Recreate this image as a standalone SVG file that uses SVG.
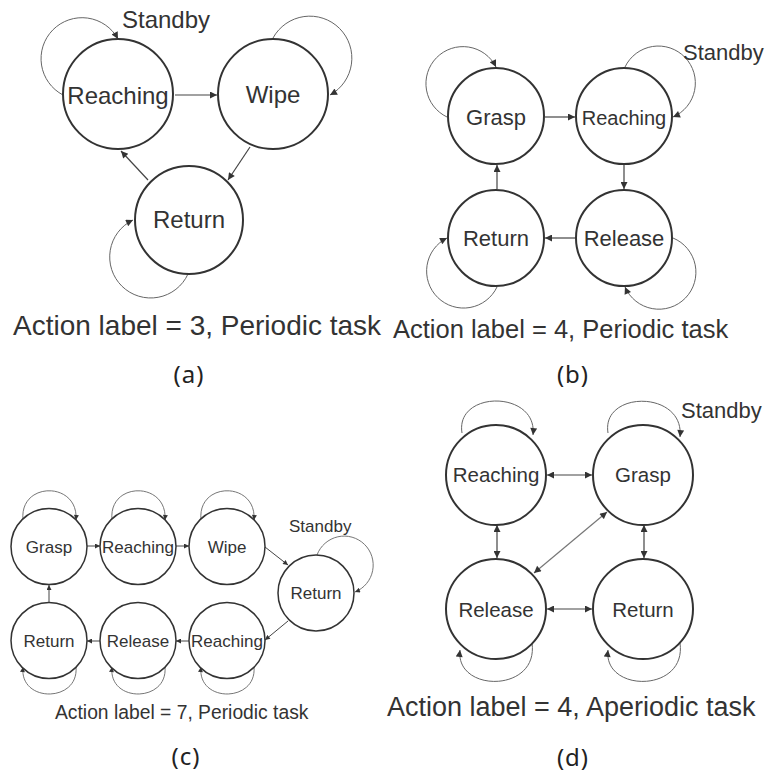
<svg xmlns="http://www.w3.org/2000/svg" width="771" height="772" viewBox="0 0 771 772">
  <style>
    .node { fill: #fff; stroke: #333; stroke-width: 2; }
    .node-s { fill: #fff; stroke: #333; stroke-width: 1.5; }
    .lbl { font-family: "Liberation Sans", Arial, sans-serif; fill: #333; text-anchor: middle; }
    .txt { font-family: "Liberation Sans", Arial, sans-serif; fill: #333; }
    .sub { font-family: "Noto Sans", "Open Sans", sans-serif; fill: #222; text-anchor: middle; font-size: 24px; letter-spacing: 1px; }
    .edge { fill: none; stroke: #444; stroke-width: 1.2; marker-end: url(#ah); }
    .edge2 { fill: none; stroke: #444; stroke-width: 1.2; marker-start: url(#ah); marker-end: url(#ah); }
    .diag { fill: none; stroke: #777; stroke-width: 1.2; marker-start: url(#ah); marker-end: url(#ah); }
    .edge-s { fill: none; stroke: #444; stroke-width: 1; marker-end: url(#ahs); }
    .loop { fill: none; stroke: #666; stroke-width: 1; marker-end: url(#ah); }
    .loop-s { fill: none; stroke: #666; stroke-width: 0.9; marker-end: url(#ahs); }
  </style>
  <defs>
    <marker id="ah" viewBox="0 0 10 10" refX="10" refY="5" markerUnits="userSpaceOnUse" markerWidth="9" markerHeight="7" orient="auto-start-reverse">
      <path d="M0,0 L10,5 L0,10 z" fill="#333"/>
    </marker>
    <marker id="ahs" viewBox="0 0 10 10" refX="10" refY="5" markerUnits="userSpaceOnUse" markerWidth="6" markerHeight="5" orient="auto-start-reverse">
      <path d="M0,0 L10,5 L0,10 z" fill="#333"/>
    </marker>
  </defs>

  <!-- (a) three-state periodic task -->
  <g id="a-connectors">
    <path class="edge" d="M175,95 L217,95"/>
    <path class="edge" d="M250,147 L228,180"/>
    <path class="edge" d="M148,180 L121,151"/>
    <path class="loop" d="M63,95 A41 41 0 1 1 118,39"/>
    <path class="loop" d="M273,38 A42 42 0 1 1 330,95"/>
    <path class="loop" d="M188,274 A41 41 0 1 1 133,220"/>
  </g>
  <g id="a-reaching"><circle class="node" cx="118" cy="94" r="55"/><text class="lbl" x="118" y="104" font-size="24">Reaching</text></g>
  <g id="a-wipe"><circle class="node" cx="273" cy="94" r="55"/><text class="lbl" x="273" y="103" font-size="24">Wipe</text></g>
  <g id="a-return"><circle class="node" cx="189" cy="220" r="54"/><text class="lbl" x="189" y="228" font-size="24">Return</text></g>
  <text class="txt" x="122" y="28" font-size="24">Standby</text>
  <text class="txt" x="13" y="335" font-size="28">Action label = 3, Periodic task</text>
  <text class="sub" x="189" y="383">(a)</text>

  <!-- (b) four-state periodic task -->
  <g id="b-connectors">
    <path class="edge" d="M545,117 L575,117"/>
    <path class="edge" d="M624,165 L624,189"/>
    <path class="edge" d="M575,238 L545,238"/>
    <path class="edge" d="M497,189 L497,165"/>
    <path class="loop" d="M447,117 A37 37 0 1 1 496,67"/>
    <path class="loop" d="M625,67 A37 37 0 1 1 673,117"/>
    <path class="loop" d="M497,287 A37 37 0 1 1 447,238"/>
    <path class="loop" d="M673,238 A37 37 0 1 1 625,287"/>
  </g>
  <g id="b-grasp"><circle class="node" cx="496" cy="116" r="48"/><text class="lbl" x="496" y="125" font-size="22">Grasp</text></g>
  <g id="b-reaching"><circle class="node" cx="624" cy="116" r="48"/><text class="lbl" x="624" y="125" font-size="20">Reaching</text></g>
  <g id="b-return"><circle class="node" cx="496" cy="238" r="48"/><text class="lbl" x="496" y="246" font-size="22">Return</text></g>
  <g id="b-release"><circle class="node" cx="624" cy="238" r="48"/><text class="lbl" x="624" y="246" font-size="22">Release</text></g>
  <text class="txt" x="683" y="60" font-size="22">Standby</text>
  <text class="txt" x="393" y="338" font-size="25.5">Action label = 4, Periodic task</text>
  <text class="sub" x="573" y="383">(b)</text>

  <!-- (c) seven-state periodic task -->
  <g id="c-connectors">
    <path class="edge-s" d="M87,546 L100,546"/>
    <path class="edge-s" d="M176,546 L189,546"/>
    <path class="edge-s" d="M265,547 L288,565"/>
    <path class="edge-s" d="M288,621 L265,640"/>
    <path class="edge-s" d="M189,641 L176,641"/>
    <path class="edge-s" d="M100,641 L87,641"/>
    <path class="edge-s" d="M49,602 L49,585"/>
    <path class="loop-s" d="M23,520 C19,481 79,481 76,520"/>
    <path class="loop-s" d="M112,520 C108,481 168,481 165,520"/>
    <path class="loop-s" d="M201,520 C197,481 257,481 254,520"/>
    <path class="loop-s" d="M317,555 A29 29 0 1 1 355,592"/>
    <path class="loop-s" d="M76,667 C79,703 19,703 23,667"/>
    <path class="loop-s" d="M165,667 C168,703 108,703 112,667"/>
    <path class="loop-s" d="M254,667 C257,703 197,703 201,667"/>
  </g>
  <g id="c-grasp"><circle class="node-s" cx="49" cy="546.5" r="38"/><text class="lbl" x="49" y="553" font-size="17">Grasp</text></g>
  <g id="c-reaching1"><circle class="node-s" cx="138" cy="546.5" r="38"/><text class="lbl" x="138" y="553" font-size="17">Reaching</text></g>
  <g id="c-wipe"><circle class="node-s" cx="227" cy="546.5" r="38"/><text class="lbl" x="227" y="553" font-size="17">Wipe</text></g>
  <g id="c-return1"><circle class="node-s" cx="316" cy="593" r="38"/><text class="lbl" x="316" y="599" font-size="17">Return</text></g>
  <g id="c-reaching2"><circle class="node-s" cx="227" cy="640.5" r="38"/><text class="lbl" x="227" y="647" font-size="17">Reaching</text></g>
  <g id="c-release"><circle class="node-s" cx="138" cy="640.5" r="38"/><text class="lbl" x="138" y="647" font-size="17">Release</text></g>
  <g id="c-return2"><circle class="node-s" cx="49" cy="640.5" r="38"/><text class="lbl" x="49" y="647" font-size="17">Return</text></g>
  <text class="txt" x="289" y="532" font-size="17">Standby</text>
  <text class="txt" x="55" y="719" font-size="19.3">Action label = 7, Periodic task</text>
  <text class="sub" x="186" y="765">(c)</text>

  <!-- (d) four-state aperiodic task -->
  <g id="d-connectors">
    <path class="edge2" d="M547,475 L592,475"/>
    <path class="edge2" d="M497,525 L497,558"/>
    <path class="edge2" d="M644,525 L644,558"/>
    <path class="edge2" d="M547,609 L592,609"/>
    <path class="diag" d="M607,512 L534,573"/>
    <path class="loop" d="M462,433 C455,390 538,390 533,435"/>
    <path class="loop" d="M608,433 C601,390 685,390 680,437"/>
    <path class="loop" d="M532,643 C539,693 455,693 460,650"/>
    <path class="loop" d="M680,643 C687,693 603,693 608,650"/>
  </g>
  <g id="d-reaching"><circle class="node" cx="496" cy="475" r="50"/><text class="lbl" x="496" y="482" font-size="20.5">Reaching</text></g>
  <g id="d-grasp"><circle class="node" cx="643" cy="475" r="50"/><text class="lbl" x="643" y="482" font-size="20.5">Grasp</text></g>
  <g id="d-release"><circle class="node" cx="496" cy="609" r="50"/><text class="lbl" x="496" y="617" font-size="20.5">Release</text></g>
  <g id="d-return"><circle class="node" cx="643" cy="609" r="50"/><text class="lbl" x="643" y="617" font-size="20.5">Return</text></g>
  <text class="txt" x="681" y="418" font-size="22">Standby</text>
  <text class="txt" x="387" y="716" font-size="27">Action label = 4, Aperiodic task</text>
  <text class="sub" x="573" y="766">(d)</text>
</svg>
